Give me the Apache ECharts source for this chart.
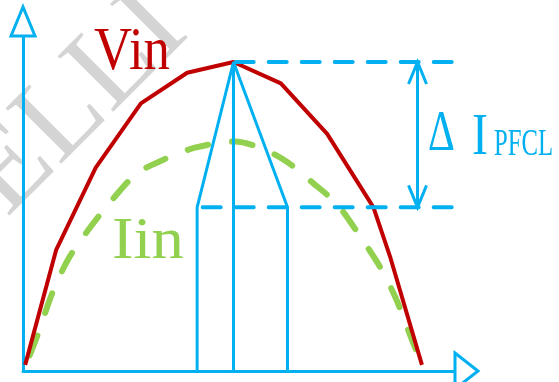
<!DOCTYPE html>
<html>
<head>
<meta charset="utf-8">
<script src="https://cdn.jsdelivr.net/npm/echarts@6/dist/echarts.min.js"></script>
<style>
  html, body { margin: 0; padding: 0; background: #fff; }
  #chart { width: 559px; height: 382px; }
</style>
</head>
<body>
<div id="chart"></div>
<script>
// phase (deg) / amplitude (% of Vin peak)
const vinPhase = [0, 14, 32, 52.5, 73.5, 94.5, 116, 137, 158, 165.5, 180]
const vinValue = [1, 38.5, 65.5, 86.5, 96.5, 100, 93, 76.5, 52.5, 36.5, 1]
const iinPhase = [0, 6, 12, 19.5, 28.5, 39.5, 50.5, 62.5, 77, 95, 106.5, 118.5, 130.5, 141.5, 151.5, 161, 168, 174.5, 180]
const iinValue = [0.5, 11.5, 24, 35.5, 45, 55, 63.5, 68, 72, 74, 72, 67.5, 60.5, 53.5, 43.5, 33, 23, 11, 1]

const peakPhase = 94.5
const rippleTop = 100
const rippleBottom = 52.5
const rippleLeft = 78
const rippleRight = 119
const dashEnd = 193.5
const deltaPhase = 178
const axisMin = -1

const blue = '#00B0F0'
const red = '#C00000'
const green = '#92D050'

const zip = (xs, ys) => xs.map((x, i) => [x, ys[i]])

const chart = echarts.init(document.getElementById('chart'))

const textEl = (text, x, y, size, color, scaleX, extra) => Object.assign({
  type: 'text',
  x, y, scaleX,
  style: {
    text,
    x: 0,
    y: 0,
    font: size + 'px "Liberation Serif"',
    fill: color,
    align: 'left', verticalAlign: 'top',
    textAlign: 'left', textVerticalAlign: 'top'
  }
}, extra || {})

const option = {
  animation: false,
  grid: { left: 23, right: 104, top: 36, bottom: 11 },
  xAxis: {
    type: 'value', min: axisMin, max: 195,
    axisLine: { show: true, onZero: false, lineStyle: { color: blue, width: 3 } },
    axisTick: { show: false }, axisLabel: { show: false }, splitLine: { show: false }
  },
  yAxis: {
    type: 'value', min: axisMin, max: 108.5,
    axisLine: { show: true, onZero: false, lineStyle: { color: blue, width: 3 } },
    axisTick: { show: false }, axisLabel: { show: false }, splitLine: { show: false }
  },
  graphic: [
    // watermark
    {
      type: 'text', x: 13, y: 224, rotation: Math.PI / 4, z: -10,
      style: {
        text: 'ELLI', x: 0, y: -100, font: '120px "Liberation Serif"', fill: '#d4d4d4',
        align: 'left', verticalAlign: 'top', textAlign: 'left', textVerticalAlign: 'top'
      }
    },
    // axis arrows
    { type: 'polygon', z: 10, shape: { points: [[11, 36], [23, 7], [35, 36]] }, style: { fill: '#fff', stroke: blue, lineWidth: 3 } },
    { type: 'polygon', z: 10, shape: { points: [[455, 353], [478, 371], [455, 389]] }, style: { fill: '#fff', stroke: blue, lineWidth: 3 } },
    textEl('Vin', 94, 22, 62, red, 0.85),
    textEl('Iin', 112, 212, 60, green, 1.08),
    textEl('Δ', 428, 106, 58, blue, 0.72),
    textEl('I', 472, 108, 60, blue, 0.8),
    textEl('PFCL', 494, 126, 38, blue, 0.65)
  ],
  series: [
    {
      name: 'Iin', type: 'line', data: zip(iinPhase, iinValue), smooth: 0.3, showSymbol: false, z: 3,
      lineStyle: { color: green, width: 6, type: [21, 24], dashOffset: 33, cap: 'round' }
    },
    {
      name: 'Vin', type: 'line', data: zip(vinPhase, vinValue), showSymbol: false, z: 4,
      lineStyle: { color: red, width: 4, join: 'round' }
    },
    {
      name: 'ripple', type: 'line', showSymbol: false, z: 5, clip: false,
      data: [[rippleLeft, axisMin], [rippleLeft, rippleBottom], [peakPhase, rippleTop], [rippleRight, rippleBottom], [rippleRight, axisMin]],
      lineStyle: { color: blue, width: 3 }
    },
    {
      name: 'peak', type: 'line', showSymbol: false, z: 5, clip: false,
      data: [[peakPhase, rippleTop], [peakPhase, axisMin]],
      lineStyle: { color: blue, width: 3 }
    },
    {
      name: 'top', type: 'line', showSymbol: false, z: 5, clip: false,
      data: [[dashEnd, rippleTop], [peakPhase, rippleTop]],
      lineStyle: { color: blue, width: 4, type: [18, 15], cap: 'round' }
    },
    {
      name: 'bottom', type: 'line', showSymbol: false, z: 5, clip: false,
      data: [[dashEnd, rippleBottom], [rippleLeft, rippleBottom]],
      lineStyle: { color: blue, width: 4, type: [18, 15], cap: 'round' }
    },
    {
      name: 'delta', type: 'custom', z: 6, clip: false,
      data: [[deltaPhase, rippleBottom, rippleTop]],
      renderItem: (params, api) => {
        const a = api.coord([api.value(0), api.value(2)])
        const b = api.coord([api.value(0), api.value(1)])
        const st = { stroke: blue, lineWidth: 3, fill: null }
        return {
          type: 'group',
          children: [
            { type: 'line', shape: { x1: a[0], y1: a[1], x2: b[0], y2: b[1] }, style: st },
            { type: 'polyline', shape: { points: [[a[0] - 9, a[1] + 22], a, [a[0] + 9, a[1] + 22]] }, style: st },
            { type: 'polyline', shape: { points: [[b[0] - 9, b[1] - 22], b, [b[0] + 9, b[1] - 22]] }, style: st }
          ]
        }
      }
    }
  ]
}

chart.setOption(option)
</script>
</body>
</html>
